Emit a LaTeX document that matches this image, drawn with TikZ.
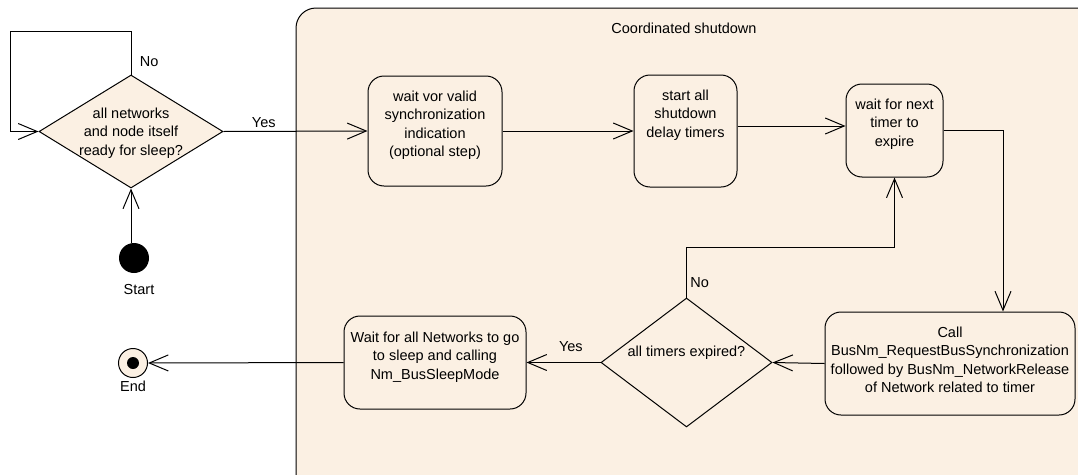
\documentclass[tikz,border=0pt]{standalone}
\usepackage{fontspec}
\setmainfont{Liberation Sans}
\usetikzlibrary{arrows.meta}
\usetikzlibrary{shapes.geometric}
\definecolor{shutbg}{RGB}{251,240,227}

\begin{document}
\begin{tikzpicture}[x=1pt,y=-1pt,line width=1pt,
    every node/.style={font=\fontsize{14.5}{18.5}\selectfont},
    act/.style={draw,rounded corners=16pt,fill=shutbg,inner sep=0pt},
    decision/.style={draw,diamond,fill=shutbg,inner sep=0pt},
    txt/.style={align=center,anchor=north,inner sep=0pt},
    flow/.style={-{Straight Barb[length=19pt,width=16pt]}}]
          \useasboundingbox (0,0) rectangle (1078,474);
          % coordinated shutdown region
          \begin{scope}
            \clip (0,0) rectangle (1078,474);
            \draw[fill=shutbg,rounded corners=20pt] (296,8) rectangle (1110,500);
          \end{scope}
          \node (title) at (684,28) {Coordinated shutdown};

          \node[decision,minimum width=184pt,minimum height=113pt] (ready) at (131,131.5) {};
          \node[txt] (readytxt) at (131,107) {all networks\\and node itself\\ready for sleep?};
          \node[circle,fill=black,minimum size=30pt,inner sep=0pt] (start) at (134,258) {};
          \node (starttxt) at (139,290) {Start};
          \node[circle,draw,fill=shutbg,minimum size=29pt,inner sep=0pt] (done) at (133,363) {};
          \fill (done.center) circle[radius=6pt];
          \node (donetxt) at (133,386) {End};

          \node[act,minimum width=134pt,minimum height=110pt] (sync) at (435,131) {};
          \node[txt] (synctxt) at (435,90) {wait vor valid\\synchronization\\indication\\(optional step)};
          \node[act,minimum width=103pt,minimum height=112pt] (delay) at (685.5,131) {};
          \node[txt] (delaytxt) at (685.5,89) {start all\\shutdown\\delay timers};
          \node[act,minimum width=97pt,minimum height=93pt] (next) at (894.5,130.5) {};
          \node[txt] (nexttxt) at (894.5,98) {wait for next\\timer to\\expire};
          \node[act,minimum width=250pt,minimum height=103pt] (callbus) at (950,363.5) {};
          \node[txt] (callbustxt) at (950,326) {Call\\BusNm\_RequestBusSynchronization\\followed by BusNm\_NetworkRelease\\of Network related to timer};
          \node[decision,minimum width=171pt,minimum height=129pt] (expired) at (686.5,362.5) {};
          \node[txt] (expiredtxt) at (686.5,345) {all timers expired?};
          \node[act,minimum width=182pt,minimum height=93pt] (sleep) at (435,362.5) {};
          \node[txt] (sleeptxt) at (435,331) {Wait for all Networks to go\\to sleep and calling\\Nm\_BusSleepMode};

          \coordinate (loop) at (10,31);
          \draw[flow] (ready.north) |- (loop) |- (ready.west);
          \node[anchor=west] (no1) at (136,62) {No};
          \draw[flow] (ready.south |- start.north) -- (ready.south);
          \draw[flow] (ready.east) -- node[above,pos=.28] (yes1) {Yes} (sync.west);
          \draw[flow] (sync.east) -- (delay.west);
          \draw[flow] ([yshift=5pt]delay.east) -- ([yshift=4.5pt]next.west);
          \draw[flow] (next.east) -| ([xshift=53pt]callbus.north);
          \draw[flow] (callbus.west) -- (expired.east);
          \draw[flow] (expired.north) -- ++(0,-50) node[right,pos=.3] (no2) {No} -| (next.south);
          \draw[flow] (expired.west) -- node[above=7pt,pos=.4] (yes2) {Yes} (sleep.east);
          \draw[flow] (sleep.west) -- (done.east);
        \end{tikzpicture}
\end{document}
